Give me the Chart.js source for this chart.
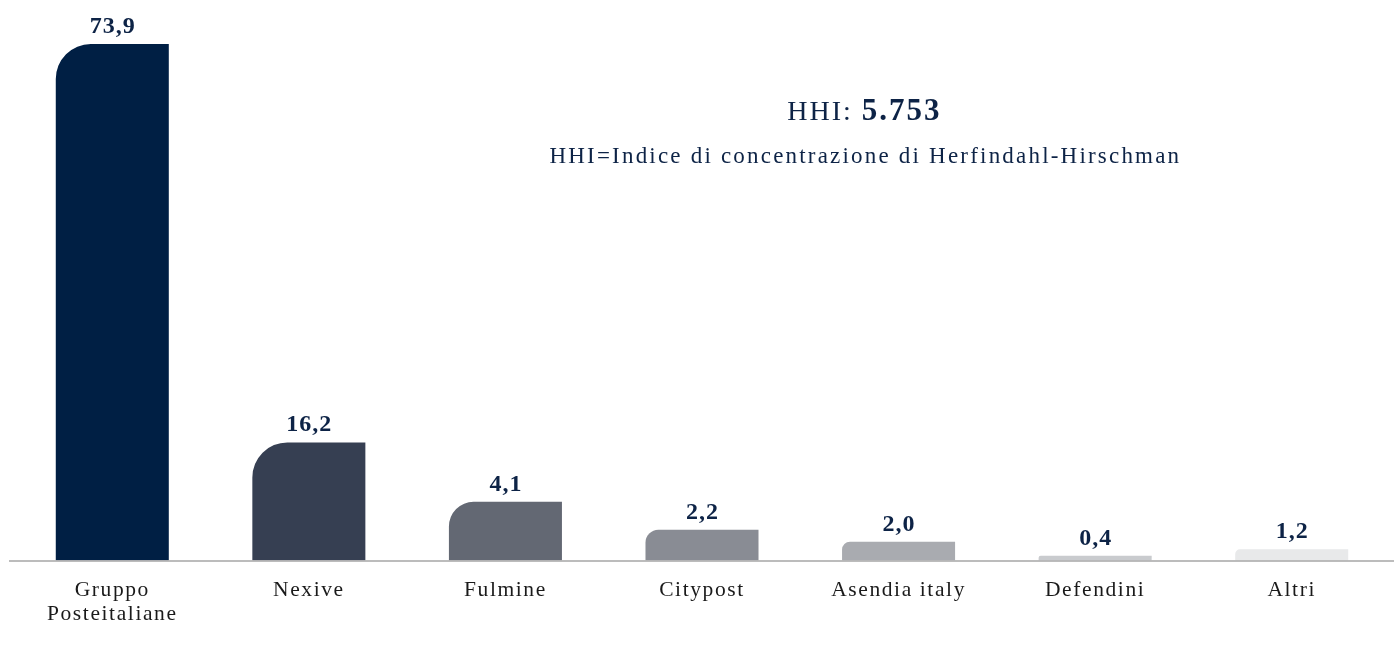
<!DOCTYPE html>
<html>
<head>
<meta charset="utf-8">
<script src="https://cdn.jsdelivr.net/npm/chart.js@4.4.1/dist/chart.umd.min.js"></script>
<style>
  html, body { margin: 0; padding: 0; background: #ffffff; }
  #wrap { position: relative; width: 1394px; height: 655px; }
</style>
</head>
<body>
<div id="wrap"><canvas id="c"></canvas></div>
<script>
// ---- data ----
const categories = [["Gruppo", "Posteitaliane"], "Nexive", "Fulmine", "Citypost", "Asendia italy", "Defendini", "Altri"];
// printed market shares (%)
const shareLabels = ["73,9", "16,2", "4,1", "2,2", "2,0", "0,4", "1,2"];
// bar heights as drawn in the picture (same scale as the first bar = 73.9)
const barValues = [73.9, 16.9, 8.4, 4.4, 2.7, 0.7, 1.6];
const barColors = ["#001f44", "#363f52", "#636873", "#898c94", "#a9abb0", "#c9cbce", "#e8e9ea"];
const hhiLabel = "HHI: ";
const hhiValue = "5.753";
const hhiNote = "HHI=Indice di concentrazione di Herfindahl-Hirschman";

const SERIF = "'Liberation Serif', 'DejaVu Serif', serif";
const NAVY = "#0d2346";

const spacingPlugin = {
  id: 'spacing',
  beforeDraw(chart) { chart.ctx.letterSpacing = '1.6px'; }
};

const labelsPlugin = {
  id: 'valueLabels',
  afterDatasetsDraw(chart) {
    const ctx = chart.ctx;
    const meta = chart.getDatasetMeta(0);
    ctx.save();
    ctx.letterSpacing = '1px';
    ctx.fillStyle = NAVY;
    ctx.font = "bold 24px " + SERIF;
    ctx.textAlign = 'center';
    ctx.textBaseline = 'alphabetic';
    meta.data.forEach((bar, i) => {
      ctx.fillText(shareLabels[i], bar.x + 0.5, bar.y - 11);
    });
    ctx.restore();
  }
};

const axisLinePlugin = {
  id: 'axisLine',
  afterDatasetsDraw(chart) {
    const ctx = chart.ctx;
    const y = chart.scales.y.getPixelForValue(0);
    ctx.save();
    ctx.strokeStyle = "#a6a6a6";
    ctx.lineWidth = 1.5;
    ctx.beginPath();
    ctx.moveTo(chart.chartArea.left - 5, y + 0.5);
    ctx.lineTo(chart.width, y + 0.5);
    ctx.stroke();
    ctx.restore();
  }
};

const hhiPlugin = {
  id: 'hhi',
  afterDraw(chart) {
    const ctx = chart.ctx;
    const cx = chart.chartArea.left + chart.chartArea.width * 0.618;
    ctx.save();
    ctx.fillStyle = NAVY;
    ctx.textBaseline = 'alphabetic';
    ctx.letterSpacing = '2px';
    const f1 = "28px " + SERIF, f2 = "bold 31px " + SERIF;
    ctx.font = f1; const w1 = ctx.measureText(hhiLabel).width;
    ctx.font = f2; const w2 = ctx.measureText(hhiValue).width;
    let x = cx - (w1 + w2) / 2;
    ctx.textAlign = 'left';
    ctx.font = f1; ctx.fillText(hhiLabel, x, 120);
    ctx.font = f2; ctx.fillText(hhiValue, x + w1, 120);
    ctx.font = "23px " + SERIF;
    ctx.letterSpacing = '2.2px';
    ctx.textAlign = 'center';
    ctx.fillText(hhiNote, cx + 1, 163);
    ctx.restore();
  }
};

new Chart(document.getElementById('c'), {
  type: 'bar',
  data: {
    labels: categories,
    datasets: [{
      data: barValues,
      backgroundColor: barColors,
      categoryPercentage: 1,
      barPercentage: 0.575,
      borderSkipped: false,
      borderRadius: (c) => {
        const el = c.chart.scales && c.chart.scales.y;
        let h = 100;
        if (el && c.parsed) {
          h = el.getPixelForValue(0) - el.getPixelForValue(c.parsed.y);
        }
        const r = Math.min(35, h * 0.42);
        return { topLeft: r, topRight: 0, bottomLeft: 0, bottomRight: 0 };
      }
    }]
  },
  options: {
    responsive: true,
    maintainAspectRatio: false,
    animation: false,
    layout: { padding: { left: 14, right: 4, top: 44, bottom: 11 } },
    plugins: { legend: { display: false }, tooltip: { enabled: false } },
    scales: {
      x: {
        grid: { display: false, drawTicks: false },
        border: { display: false },
        ticks: {
          color: "#1a1a1a",
          font: { family: SERIF, size: 21.5, lineHeight: 1.15 },
          padding: 17,
          maxRotation: 0,
          autoSkip: false
        }
      },
      y: {
        display: false,
        min: 0,
        max: 73.9
      }
    }
  },
  plugins: [spacingPlugin, labelsPlugin, axisLinePlugin, hhiPlugin]
});
</script>
</body>
</html>
